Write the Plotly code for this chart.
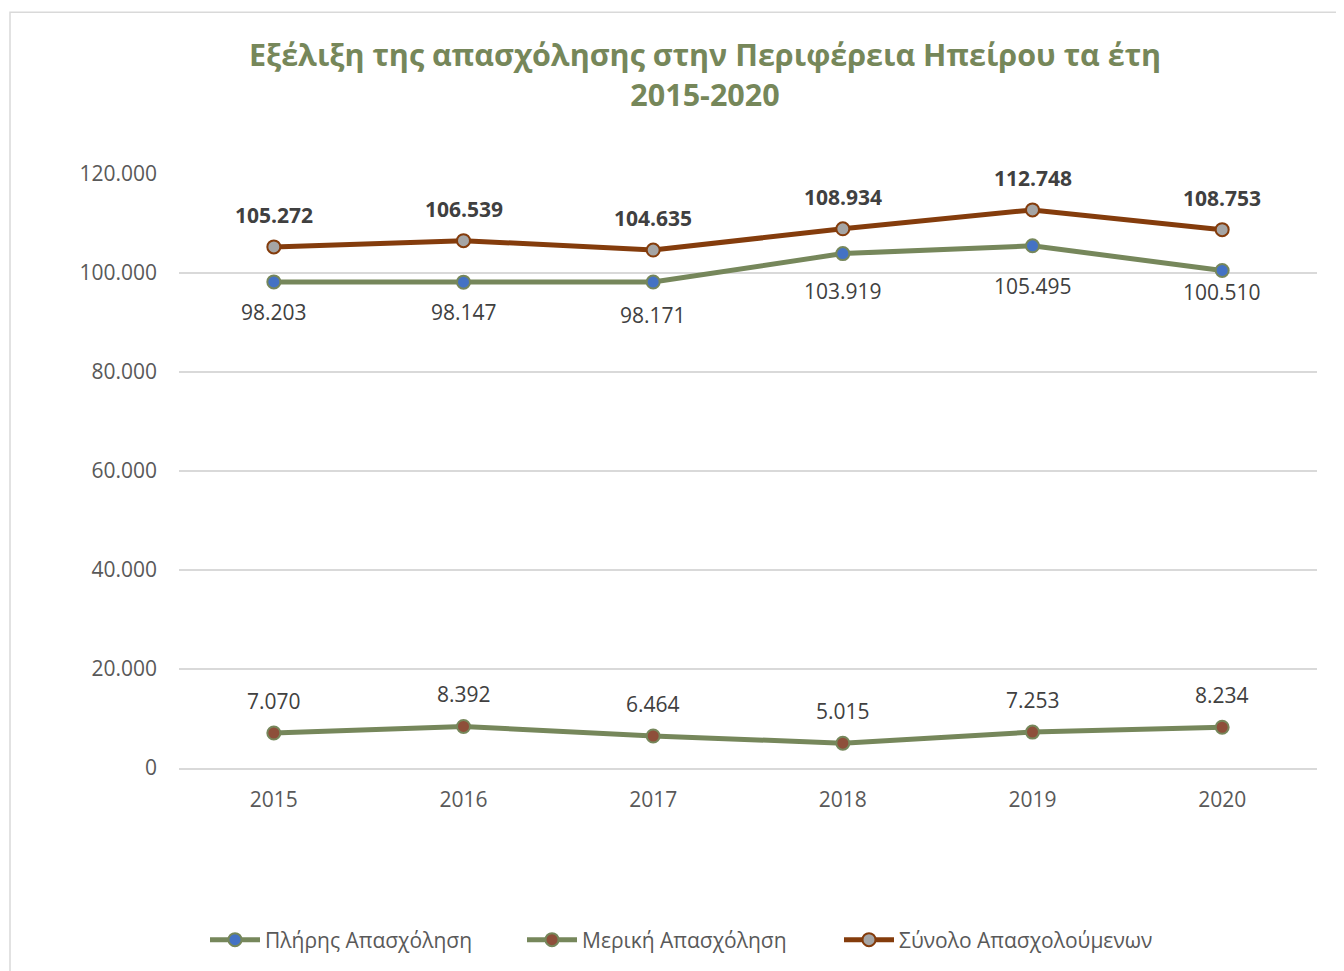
import plotly.graph_objects as go

years = ["2015", "2016", "2017", "2018", "2019", "2020"]
full_time = [98203, 98147, 98171, 103919, 105495, 100510]
part_time = [7070, 8392, 6464, 5015, 7253, 8234]
total = [105272, 106539, 104635, 108934, 112748, 108753]
names = ["Πλήρης Απασχόληση", "Μερική Απασχόληση", "Σύνολο Απασχολούμενων"]
y_ticks = [0, 20000, 40000, 60000, 80000, 100000, 120000]

# label offsets (pixels) as placed in the original chart
full_label_shift = [-30, -30, -33, -37, -40, -22]


def fmt(v):
    return f"{v:,}".replace(",", ".")


FONT = "Open Sans"
GREEN = "#76875B"
BROWN = "#843C0C"
W, H = 1336, 963
L, T, PW, PH = 171, 166, 1138, 595

fig = go.Figure()
series = [
    (full_time, names[0], GREEN, "#4472C4", GREEN),
    (part_time, names[1], GREEN, "#8E4F3A", GREEN),
    (total, names[2], BROWN, "#A5A5A5", BROWN),
]
for vals, nm, lc, mc, mlc in series:
    fig.add_trace(go.Scatter(
        x=years, y=vals, name=nm, mode="lines+markers",
        line=dict(color=lc, width=5),
        marker=dict(size=13, color=mc, line=dict(color=mlc, width=2)),
    ))

annotations = []
label_specs = [
    (full_time, full_label_shift, "{}"),
    (part_time, [32] * len(years), "{}"),
    (total, [32] * len(years), "<b>{}</b>"),
]
for vals, shifts, tmpl in label_specs:
    for i, (v, s) in enumerate(zip(vals, shifts)):
        annotations.append(dict(
            x=i, y=v, xref="x", yref="y", text=tmpl.format(fmt(v)),
            showarrow=False, yshift=s,
            font=dict(family=FONT, size=21, color="#404040"),
        ))

fig.update_layout(
    width=W, height=H,
    paper_bgcolor="white", plot_bgcolor="white",
    margin=dict(l=L, r=W - L - PW, t=T, b=H - T - PH),
    title=dict(
        text="<b>Εξέλιξη της απασχόλησης στην Περιφέρεια Ηπείρου τα έτη<br>2015-2020</b>",
        x=(705 - 8) / W, xanchor="center", yref="container", y=1 - 58 / H, yanchor="top",
        font=dict(family=FONT, size=30.5, color="#76875A"),
    ),
    showlegend=True,
    legend=dict(
        orientation="h", x=(197 - L) / PW, xanchor="left",
        y=-(932 - (T + PH)) / PH, yanchor="middle",
        font=dict(family=FONT, size=21, color="#595959"),
        itemwidth=50,
        entrywidth=252, entrywidthmode="pixels",
    ),
    xaxis=dict(
        type="category", range=[-0.5, len(years) - 0.5], autorange=False,
        showgrid=False, showline=True, linecolor="#D9D9D9", linewidth=1.5,
        tickfont=dict(family=FONT, size=21, color="#595959"), ticks="",
        ticklabelstandoff=12,
    ),
    yaxis=dict(
        range=[0, 120000], tickvals=y_ticks,
        ticktext=[fmt(v) for v in y_ticks],
        showgrid=True, gridcolor="#D9D9D9", gridwidth=1.5, zeroline=False,
        tickfont=dict(family=FONT, size=21, color="#595959"),
        ticklabelstandoff=21,
    ),
    annotations=annotations,
    shapes=[dict(
        type="rect", xref="paper", yref="paper",
        x0=(2 - L) / PW, x1=(W + 20 - L) / PW,
        y0=-(H + 20 - T - PH) / PH, y1=(T + PH - 4) / PH,
        line=dict(color="#D9D9D9", width=1.5), fillcolor="rgba(0,0,0,0)", layer="below",
    )],
)

fig.write_html("out.html")
